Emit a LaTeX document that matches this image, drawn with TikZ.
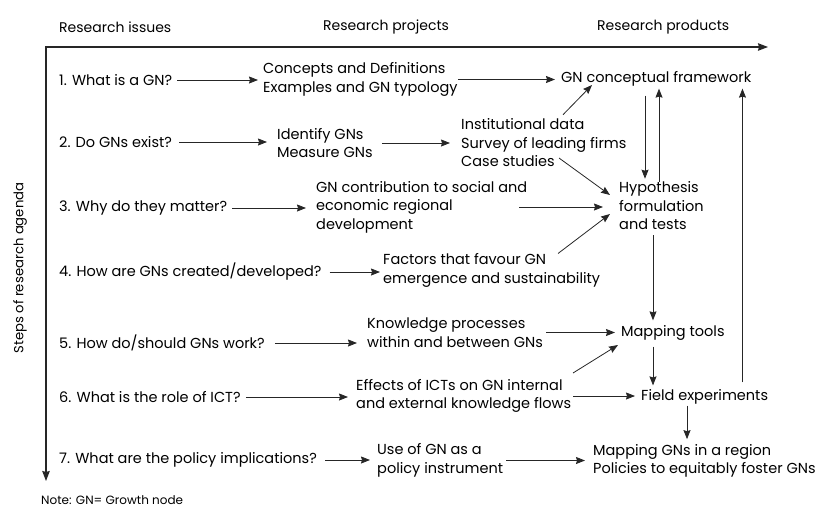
\documentclass[tikz,border=0pt]{standalone}
\usepackage{fontspec}
\setmainfont{Poppins}
\usetikzlibrary{arrows.meta,calc}
\begin{document}
\begin{tikzpicture}[x=1pt,y=-1pt,
  txt/.style={inner sep=0pt, anchor=west, align=left,
    font=\fontsize{14.5}{18.5}\selectfont},
  head/.style={txt, font=\fontsize{14}{17}\selectfont},
  arr/.style={draw=black!85, line width=0.8pt,
    -{Stealth[length=9pt,width=7pt,inset=1pt]}},
  axis/.style={draw=black!85, line width=1.2pt}]
  \useasboundingbox (0,0) rectangle (819,507);

  % column headings and axes
  \node[head] (h1) at (59,27) {Research issues};
  \node[head] (h2) at (323,27) {Research projects};
  \node[head] (h3) at (597,27) {Research products};
  \node[head, font=\fontsize{13.2}{16}\selectfont, anchor=center, rotate=90] (steps) at (20,268) {Steps of research agenda};
  \coordinate (O) at (46,47);
  \coordinate (xend) at (768,47);
  \coordinate (yend) at (46,481);
  \draw[axis, {Stealth[length=10pt,width=7.5pt,inset=1pt]}-{Stealth[length=10pt,width=7.5pt,inset=1pt]}]
    (yend) -- (O) -- (xend);

  % research issues
  \node[txt] (q1) at (59,80) {1. What is a GN?};
  \node[txt] (q2) at (59,142) {2. Do GNs exist?};
  \node[txt] (q3) at (59,208) {3. Why do they matter?};
  \node[txt] (q4) at (59,272) {4. How are GNs created/developed?};
  \node[txt] (q5) at (59,343) {5. How do/should GNs work?};
  \node[txt] (q6) at (59,397) {6. What is the role of ICT?};
  \node[txt] (q7) at (59,460) {7. What are the policy implications?};

  % research projects
  \node[txt] (c1) at (263,79.5) {Concepts and Definitions\\Examples and GN typology};
  \node[txt] (c2) at (277,143) {Identify GNs\\Measure GNs};
  \node[txt] (d2) at (461,143) {Institutional data\\Survey of leading firms\\Case studies};
  \node[txt] (c3) at (316,207) {GN contribution to social and\\economic regional\\development};
  \node[txt] (c4) at (383,270.5) {Factors that favour GN\\emergence and sustainability};
  \node[txt] (c5) at (367,332.5) {Knowledge processes\\within and between GNs};
  \node[txt] (c6) at (356,396) {Effects of ICTs on GN internal\\and external knowledge flows};
  \node[txt] (c7) at (377,460.5) {Use of GN as a\\policy instrument};

  % research products
  \node[txt] (p1) at (561,79) {GN conceptual framework};
  \node[txt] (hyp) at (619,206) {Hypothesis\\formulation\\and tests};
  \node[txt] (map) at (621,333) {Mapping tools};
  \node[txt] (fe) at (641,397) {Field experiments};
  \node[txt] (pol) at (593,461) {Mapping GNs in a region\\Policies to equitably foster GNs};

  \node[txt] (note) at (41,500) {\fontsize{12}{14}\selectfont Note: GN= Growth node};

  % issue -> project
  \draw[arr, shorten <=5pt, shorten >=5pt] (q1.east) -- (q1.east -| c1.west);
  \draw[arr, shorten <=7pt, shorten >=10pt] (q2.east) -- (q2.east -| c2.west);
  \draw[arr, shorten <=5pt, shorten >=10pt] (q3.east) -- (q3.east -| c3.west);
  \draw[arr, shorten <=8pt, shorten >=3pt] (q4.east) -- (q4.east -| c4.west);
  \draw[arr, shorten <=10pt, shorten >=10pt] (q5.east) -- (q5.east -| c5.west);
  \draw[arr, shorten <=5pt, shorten >=8pt] (q6.east) -- (q6.east -| c6.west);
  \draw[arr, shorten <=8pt, shorten >=7pt] (q7.east) -- (q7.east -| c7.west);

  % project -> product
  \draw[arr, shorten >=6pt] (c1.east) -- (c1.east -| p1.west);
  \draw[arr, shorten <=9pt, shorten >=11pt] (c2.east) -- (c2.east -| d2.west);
  \draw[arr] ($(d2.north west)+(102pt,4pt)$) -- ($(p1.west)+(31pt,-6pt)$);
  \draw[arr] ($(d2.west)+(98pt,-15pt)$) -- ($(hyp.west)+(-9pt,11pt)$);
  \draw[arr] ($(c3.east)+(-8pt,0pt)$) -- ($(hyp.west |- c3.east)+(-16pt,0pt)$);
  \draw[arr] ($(c4.west)+(175pt,17pt)$) -- ($(hyp.west)+(-9pt,-8pt)$);
  \draw[arr, shorten <=3pt, shorten >=6pt] (c5.east) -- (c5.east -| map.west);
  \draw[arr] ($(c6.west)+(217pt,23pt)$) -- ($(map.west)+(-3pt,-12pt)$);
  \draw[arr, shorten <=2pt, shorten >=6pt] (c6.east) -- (c6.east -| fe.west);
  \draw[arr, shorten <=3pt, shorten >=8pt] (c7.east) -- (c7.east -| pol.west);

  % links between products
  \draw[arr] ($(hyp.north west |- p1.south)+(26pt,-9pt)$) -- ($(hyp.north west)+(26pt,3pt)$);
  \draw[arr] ($(hyp.north west)+(40pt,0pt)$) -- ($(hyp.north west |- p1.south)+(40pt,-2pt)$);
  \draw[arr] ($(p1.south east |- fe.north)+(-9pt,7pt)$) -- ($(p1.south east)+(-9pt,-2pt)$);
  \draw[arr] ($(hyp.south west)+(34pt,-5pt)$) -- ($(map.north west)+(32pt,5pt)$);
  \draw[arr] ($(map.south west)+(32pt,-6pt)$) -- ($(fe.north west)+(12pt,4pt)$);
  \draw[arr] ($(fe.south west)+(46pt,-1pt)$) -- ($(fe.south west |- pol.north)+(46pt,5pt)$);
\end{tikzpicture}
\end{document}
